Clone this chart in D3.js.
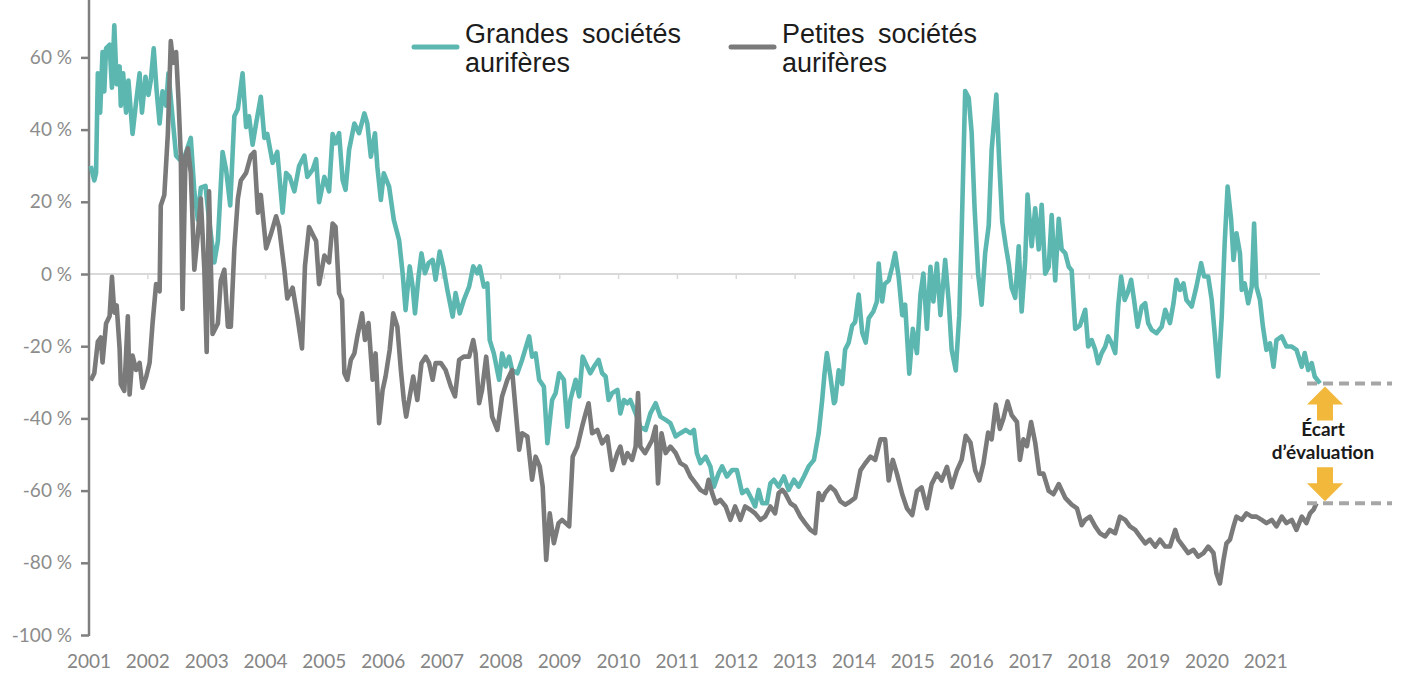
<!DOCTYPE html>
<html><head><meta charset="utf-8">
<script src="https://cdn.jsdelivr.net/npm/d3@7"></script>
<style>html,body{margin:0;padding:0;background:#fff;overflow:hidden}svg{display:block}</style>
</head><body><svg id="c" width="1403" height="673"></svg>
<script>
// ---------- DATA ----------
const yearTicks = d3.range(2001, 2022);
const valueTicks = [-100, -80, -60, -40, -20, 0, 20, 40, 60];
const seriesNames = [["Grandes sociétés", "aurifères"], ["Petites sociétés", "aurifères"]];
const annotationText = ["Écart", "d’évaluation"];

// [decimal year, % premium/discount]
const grandes = [
[2001.03,29.9],[2001.09,25.9],[2001.12,28],[2001.15,55.6],[2001.19,44.7],[2001.23,61.5],[2001.26,50.6],[2001.29,62.5],[2001.35,63.5],[2001.39,51.6],[2001.43,68.9],[2001.47,52.6],[2001.52,57.5],[2001.54,46.6],[2001.58,55.6],[2001.63,44.7],[2001.67,53.6],[2001.74,38.8],[2001.80,47.6],[2001.86,55.6],[2001.90,44.7],[2001.96,54.6],[2002.01,49.6],[2002.05,53.6],[2002.10,62.5],[2002.15,50.6],[2002.20,41.7],[2002.25,50.6],[2002.31,46.6],[2002.35,55.6],[2002.48,32.8],[2002.59,30.8],[2002.73,37.7],[2002.79,22.9],[2002.85,15],[2002.90,23.9],[2002.98,24.4],[2003.04,15],[2003.13,3.2],[2003.19,9.1],[2003.27,33.8],[2003.33,28.9],[2003.40,19],[2003.47,43.7],[2003.53,45.7],[2003.61,55.6],[2003.67,40.7],[2003.72,43.7],[2003.78,35.8],[2003.84,41.7],[2003.92,49.1],[2003.98,37.7],[2004.03,38.8],[2004.12,30.8],[2004.20,33.8],[2004.29,17],[2004.35,28],[2004.41,26.9],[2004.49,22.9],[2004.57,29.9],[2004.66,32.8],[2004.71,26.9],[2004.80,28.9],[2004.86,31.8],[2004.91,19.9],[2005.00,26.9],[2005.08,22.9],[2005.14,38.8],
[2005.19,36.2],[2005.25,39],[2005.31,26],[2005.36,23.3],[2005.42,34.4],[2005.51,41.7],[2005.59,39],[2005.68,44.5],[2005.73,41.7],[2005.79,32.5],[2005.86,39],[2005.90,29.7],[2005.96,20.5],[2006.01,27.9],[2006.10,24.2],[2006.18,15],[2006.27,9.4],[2006.33,0.2],[2006.38,-10],[2006.45,2.1],[2006.50,-3.5],[2006.54,-10.9],[2006.60,-0.7],[2006.65,5.7],[2006.71,0.2],[2006.77,3],[2006.84,3.9],[2006.89,-1.6],[2006.96,6.2],[2007.02,2.1],[2007.09,-4.4],[2007.18,-11.8],[2007.23,-5.3],[2007.30,-10.9],[2007.37,-7.2],[2007.46,-3.5],[2007.53,2.1],[2007.60,0.2],[2007.64,2.1],[2007.71,-3.5],[2007.77,-2.6],[2007.81,-18.3],[2007.88,-22],[2007.97,-29.3],[2008.02,-22],[2008.08,-25.6],[2008.14,-22.9],[2008.19,-26.6],[2008.28,-27.5],[2008.36,-23.8],[2008.48,-17.3],[2008.53,-22.9],[2008.59,-22],[2008.65,-29.3],[2008.73,-31.2],[2008.79,-46.9],[2008.87,-34.9],[2008.93,-33],[2008.99,-27.5],[2009.07,-29.3],[2009.13,-42.3],[2009.18,-34.9],[2009.27,-29.3],[2009.33,-33.9],[2009.39,-22.9],
[2009.44,-24.7],[2009.52,-27.5],[2009.58,-25.7],[2009.66,-23.8],[2009.72,-27.5],[2009.78,-28.4],[2009.83,-34.9],[2009.89,-33],[2009.98,-32.1],[2010.03,-38.6],[2010.09,-34.9],[2010.15,-35.8],[2010.20,-34.9],[2010.29,-38.6],[2010.37,-42.3],[2010.46,-43.2],[2010.54,-38.6],[2010.63,-35.8],[2010.71,-39.5],[2010.80,-40.4],[2010.88,-41.3],[2010.97,-45],[2011.05,-44.1],[2011.14,-43.2],[2011.22,-44.1],[2011.28,-43.2],[2011.33,-49.6],[2011.39,-52.4],[2011.48,-50.6],[2011.56,-53.3],[2011.62,-58.9],[2011.70,-55.2],[2011.76,-53.3],[2011.84,-56.1],[2011.93,-54.3],[2012.01,-54.3],[2012.10,-60.7],[2012.18,-59.8],[2012.27,-62.6],[2012.32,-64.4],[2012.38,-59.8],[2012.44,-63.5],[2012.52,-63.5],[2012.58,-58],[2012.64,-57],[2012.72,-58.9],[2012.81,-56.1],[2012.89,-59.8],[2012.98,-57],[2013.06,-58.9],[2013.15,-56.1],[2013.23,-53.3],[2013.32,-51.5],[2013.40,-44.1],[2013.46,-34.9],[2013.50,-27.5],[2013.54,-21.9],[2013.60,-28.4],[2013.66,-35.8],
[2013.68,-35.3],[2013.74,-26.7],[2013.80,-30.5],[2013.85,-20.9],[2013.91,-19],[2013.97,-14.3],[2014.02,-13.3],[2014.08,-5.7],[2014.14,-16.2],[2014.20,-19],[2014.25,-12.3],[2014.33,-10.4],[2014.39,-7.6],[2014.42,2.9],[2014.48,-7.6],[2014.52,-2.8],[2014.59,-1.8],[2014.65,2],[2014.70,5.8],[2014.76,-0.9],[2014.82,-11.4],[2014.87,-8.5],[2014.94,-27.6],[2015.00,-15.2],[2015.07,-21.9],[2015.13,-5.7],[2015.18,0.1],[2015.24,-15.2],[2015.30,2],[2015.35,-7.6],[2015.41,2.9],[2015.47,-11.4],[2015.55,3.9],[2015.61,-7.6],[2015.66,-20.9],[2015.73,-26.7],[2015.79,-11.4],[2015.83,11.5],[2015.89,50.7],[2015.95,48.8],[2016.00,39.2],[2016.05,18.2],[2016.11,0.1],[2016.17,-8.5],[2016.23,5.8],[2016.29,13.4],[2016.34,34.4],[2016.42,49.7],[2016.47,30.6],[2016.52,14.4],[2016.58,7.7],[2016.63,2.9],[2016.68,-3.8],[2016.74,-6.6],[2016.80,7.7],[2016.85,-10.4],[2016.91,3.9],[2016.95,22],[2017.02,7.7],[2017.08,18.2],[2017.14,6.8],[2017.19,19.2],[2017.25,0.1],[2017.31,2],[2017.36,16.3],[2017.42,-1.8],[2017.48,15.3],[2017.53,6.8],[2017.59,5.8],[2017.65,2],[2017.70,1],[2017.76,-15.2],[2017.84,-14.3],
[2017.93,-9.9],[2017.98,-20.1],[2018.04,-18.3],[2018.10,-21],[2018.15,-24.7],[2018.21,-21.9],[2018.27,-20.1],[2018.32,-17.3],[2018.38,-19.2],[2018.44,-21.9],[2018.49,-9],[2018.54,-0.7],[2018.60,-7.2],[2018.65,-5.3],[2018.71,-1.6],[2018.76,-7.2],[2018.82,-14.6],[2018.89,-9],[2018.95,-8.1],[2019.00,-13.6],[2019.06,-15.5],[2019.14,-16.4],[2019.23,-14.6],[2019.29,-9.9],[2019.37,-13.6],[2019.43,-8.1],[2019.48,-1.6],[2019.54,-4.4],[2019.60,-2.6],[2019.65,-7.2],[2019.74,-9],[2019.82,-3.5],[2019.90,3],[2019.95,-0.7],[2020.02,-0.7],[2020.08,-7.2],[2020.13,-16.4],[2020.19,-28.4],[2020.25,-11.8],[2020.30,8.5],[2020.35,24.2],[2020.41,15],[2020.45,3.9],[2020.50,11.3],[2020.56,5.7],[2020.59,-4.4],[2020.64,-2.6],[2020.70,-8.1],[2020.76,-3.5],[2020.80,14],[2020.84,-3.5],[2020.90,-7.2],[2020.95,-14.6],[2021.01,-21],[2021.07,-19.2],[2021.13,-25.7],[2021.18,-18.3],[2021.27,-17.3],[2021.35,-20.1],[2021.44,-20.1],[2021.52,-21],[2021.61,-25.7],[2021.66,-21.9],[2021.72,-26.6],[2021.78,-24.7],[2021.83,-28.4],[2021.92,-30.3]
];

const petites = [
[2001.03,-29.5],[2001.09,-27.5],[2001.15,-18.7],[2001.20,-17.6],[2001.23,-24.5],[2001.29,-13.7],[2001.35,-11.7],[2001.39,-0.8],[2001.43,-10.7],[2001.47,-8.7],[2001.52,-20.6],[2001.54,-30.5],[2001.60,-32.4],[2001.66,-11.7],[2001.69,-33.4],[2001.74,-22.6],[2001.80,-26.6],[2001.86,-24.6],[2001.91,-31.5],[2001.97,-28.6],[2002.03,-24.6],[2002.08,-13.7],[2002.14,-2.8],[2002.20,-4.8],[2002.22,19],[2002.28,21.9],[2002.34,38.8],[2002.39,64.5],[2002.43,58.5],[2002.48,61.5],[2002.52,48.6],[2002.56,32.8],[2002.59,-9.7],[2002.64,32.8],[2002.68,34.8],[2002.73,28],[2002.79,1.2],[2002.85,11],[2002.90,20.9],[2002.96,1.2],[2003.00,-21.6],[2003.04,22.9],[2003.10,-16.6],[2003.19,-13.7],[2003.24,-1.8],[2003.30,1.2],[2003.36,-14.6],[2003.41,-14.6],[2003.47,7.1],[2003.53,20.9],[2003.58,25.9],[2003.67,28],[2003.75,32.8],[2003.81,33.8],[2003.87,17],[2003.92,21.9],[2004.01,7.1],[2004.09,11],[2004.18,16],[2004.23,13],[2004.32,1.2],[2004.37,-6.8],[2004.46,-3.8],[2004.54,-11.7],[2004.62,-20.6],[2004.67,2.2],[2004.74,13],[2004.80,11],[2004.86,9.1],[2004.91,-2.8],[2005.00,5.1],[2005.08,3.2],[2005.14,14],
[2005.19,13.1],[2005.25,-5.3],[2005.30,-7.2],[2005.34,-27.5],[2005.39,-29.3],[2005.45,-23.8],[2005.51,-22],[2005.56,-17.3],[2005.64,-10.9],[2005.69,-18.3],[2005.75,-13.6],[2005.82,-29.3],[2005.87,-22],[2005.93,-41.3],[2005.99,-32.1],[2006.04,-28.4],[2006.11,-21],[2006.17,-10.9],[2006.24,-14.6],[2006.30,-26.6],[2006.35,-34.9],[2006.39,-39.5],[2006.45,-33.9],[2006.51,-28.4],[2006.58,-34.9],[2006.65,-24.7],[2006.72,-22.9],[2006.78,-24.7],[2006.84,-29.3],[2006.89,-24.7],[2006.98,-24.7],[2007.06,-26.6],[2007.15,-31.2],[2007.22,-33.9],[2007.29,-23.8],[2007.37,-22.9],[2007.46,-22.9],[2007.53,-18.3],[2007.57,-22],[2007.63,-35.8],[2007.68,-32.1],[2007.75,-22.9],[2007.80,-31.2],[2007.85,-39.5],[2007.94,-43.2],[2008.02,-33.9],[2008.11,-29.3],[2008.19,-26.6],[2008.25,-37.6],[2008.31,-48.7],[2008.36,-44.1],[2008.45,-45],[2008.53,-57],[2008.59,-50.6],[2008.66,-53.3],[2008.71,-58.9],[2008.77,-79.2],[2008.83,-66.3],[2008.90,-74.6],[2008.98,-69],[2009.04,-68.1],[2009.16,-69.9],[2009.22,-50.6],[2009.30,-47.8],[2009.38,-42.3],
[2009.44,-38.6],[2009.49,-35.8],[2009.55,-44.1],[2009.64,-43.2],[2009.72,-46.9],[2009.81,-45],[2009.89,-54.3],[2009.98,-49.6],[2010.03,-47.8],[2010.09,-52.4],[2010.15,-49.6],[2010.23,-51.5],[2010.29,-47.8],[2010.33,-33],[2010.37,-47.8],[2010.45,-49.6],[2010.51,-47.8],[2010.57,-46],[2010.63,-42.3],[2010.67,-58],[2010.73,-44.1],[2010.80,-49.6],[2010.88,-47.8],[2010.97,-49.6],[2011.05,-52.4],[2011.14,-53.3],[2011.22,-56.1],[2011.31,-58],[2011.39,-59.8],[2011.48,-60.7],[2011.53,-57],[2011.59,-60.7],[2011.65,-63.5],[2011.73,-62.6],[2011.82,-64.4],[2011.90,-68.1],[2011.98,-64.4],[2012.07,-68.1],[2012.15,-64.4],[2012.24,-65.3],[2012.32,-66.3],[2012.41,-68.1],[2012.49,-67.2],[2012.58,-64.4],[2012.66,-66.3],[2012.72,-60.7],[2012.78,-59.8],[2012.83,-60.7],[2012.92,-63.5],[2013.00,-64.4],[2013.09,-67.2],[2013.17,-69],[2013.26,-70.9],[2013.34,-71.8],[2013.40,-60.7],[2013.46,-62.6],[2013.51,-60.7],[2013.60,-58.9],
[2013.68,-60.1],[2013.77,-63],[2013.85,-63.9],[2013.94,-63],[2014.02,-62],[2014.11,-54.4],[2014.19,-52.5],[2014.28,-50.6],[2014.36,-51.5],[2014.45,-45.8],[2014.53,-45.8],[2014.59,-57.2],[2014.66,-51.5],[2014.73,-55.3],[2014.82,-61],[2014.90,-64.9],[2014.99,-66.8],[2015.07,-60.1],[2015.15,-59.1],[2015.24,-64.9],[2015.32,-58.2],[2015.41,-55.3],[2015.49,-57.2],[2015.58,-53.4],[2015.66,-59.1],[2015.75,-54.4],[2015.83,-51.5],[2015.90,-44.8],[2015.98,-46.7],[2016.06,-54.4],[2016.13,-57.2],[2016.20,-52.5],[2016.28,-43.9],[2016.34,-45.8],[2016.41,-36.2],[2016.48,-42.9],[2016.54,-40],[2016.61,-35.3],[2016.68,-39.1],[2016.77,-41],[2016.82,-51.5],[2016.88,-45.8],[2016.94,-47.7],[2017.01,-41],[2017.08,-46.7],[2017.15,-55.3],[2017.22,-55.3],[2017.31,-60.1],[2017.39,-61],[2017.48,-58.2],[2017.59,-62],[2017.70,-63.9],[2017.79,-64.9],[2017.87,-69.6],
[2017.93,-68.1],[2018.01,-67.2],[2018.10,-69.9],[2018.18,-71.8],[2018.27,-72.7],[2018.35,-70.9],[2018.44,-71.8],[2018.52,-67.2],[2018.61,-68.1],[2018.69,-69.9],[2018.78,-70.9],[2018.86,-72.7],[2018.95,-74.6],[2019.03,-73.6],[2019.12,-75.5],[2019.20,-73.6],[2019.29,-75.5],[2019.37,-75.5],[2019.46,-70.9],[2019.51,-73.6],[2019.60,-75.5],[2019.68,-77.3],[2019.77,-76.4],[2019.85,-78.3],[2019.94,-77.3],[2020.02,-75.5],[2020.11,-77.3],[2020.16,-82.9],[2020.22,-85.7],[2020.28,-79.2],[2020.33,-74.6],[2020.39,-73.6],[2020.45,-69.9],[2020.50,-67.2],[2020.59,-68.1],[2020.67,-66.3],[2020.76,-67.2],[2020.84,-67.2],[2020.93,-68.1],[2021.01,-69],[2021.10,-68.1],[2021.18,-69.9],[2021.27,-67.2],[2021.35,-69],[2021.44,-68.1],[2021.52,-70.9],[2021.61,-67.2],[2021.69,-69],[2021.75,-66.3],[2021.81,-65.3],[2021.86,-63.5]
];

// ---------- STYLE ----------
const TEAL = "#5db7b1", GREY = "#7a7a7a", GOLD = "#f1b83c";
const svg = d3.select("#c");
const x = d3.scaleLinear().domain([2001, 2021.92]).range([89, 1320]);
const y = d3.scaleLinear().domain([-100, 60]).range([635, 57.4]);

// zero line + year ticks
svg.append("line").attr("x1", x(2001)).attr("x2", x(2021.92)).attr("y1", y(0)).attr("y2", y(0))
  .attr("stroke", "#d9d9d9").attr("stroke-width", 2);
svg.append("g").selectAll("line").data(yearTicks.slice(1)).join("line")
  .attr("x1", d => x(d)).attr("x2", d => x(d)).attr("y1", y(0)).attr("y2", y(0) + 5)
  .attr("stroke", "#d9d9d9").attr("stroke-width", 1.5);

// y axis
const ya = svg.append("g").attr("transform", `translate(${x(2001)},0)`)
  .call(d3.axisLeft(y).tickValues(valueTicks).tickSize(8).tickPadding(9).tickFormat(d => d + " %"));
ya.select(".domain").remove();
ya.selectAll(".tick line").attr("stroke", "#7f7f7f").attr("stroke-width", 2.5);
ya.selectAll(".tick text").attr("fill", "#8c8c8c").style("font-family", "Lato").style("font-size", "19px");
ya.append("line").attr("x1", 0).attr("x2", 0).attr("y1", y(-100) + 1).attr("y2", y(80))
  .attr("stroke", "#7f7f7f").attr("stroke-width", 2.5);

// x labels
svg.append("g").selectAll("text").data(yearTicks).join("text")
  .attr("x", d => x(d)).attr("y", 668).attr("text-anchor", "middle")
  .attr("fill", "#858585").style("font-family", "Lato").style("font-size", "19px").text(d => d);

// series
const line = d3.line().x(d => x(d[0])).y(d => y(d[1]));
svg.append("path").datum(grandes).attr("d", line).attr("fill", "none").attr("stroke", TEAL)
  .attr("stroke-width", 4.6).attr("stroke-linejoin", "round");
svg.append("path").datum(petites).attr("d", line).attr("fill", "none").attr("stroke", GREY)
  .attr("stroke-width", 4.6).attr("stroke-linejoin", "round");

// legend
const leg = [{c: TEAL, x0: 414, tx: 465, t: seriesNames[0]}, {c: GREY, x0: 731, tx: 782, t: seriesNames[1]}];
leg.forEach(l => {
  svg.append("line").attr("x1", l.x0).attr("x2", l.x0 + 43).attr("y1", 47).attr("y2", 47)
    .attr("stroke", l.c).attr("stroke-width", 5).attr("stroke-linecap", "round");
  l.t.forEach((s, i) => svg.append("text").attr("x", l.tx).attr("y", 43 + i * 29)
    .attr("fill", "#1c1c1c").style("font-family", "Liberation Sans, Arial").style("font-size", "27px")
    .style("word-spacing", "6px").text(s));
});

// annotation
const gl = grandes[grandes.length - 1], pl = petites[petites.length - 1];
const yt = y(gl[1]), yb = y(pl[1]);
const xe = x(gl[0]);
[yt, yb].forEach(yy => svg.append("line").attr("x1", xe - 13).attr("x2", xe + 72).attr("y1", yy).attr("y2", yy)
  .attr("stroke", "#a6a6a6").attr("stroke-width", 4).attr("stroke-dasharray", "10,6"));
const cx = xe + 5;
function arrow(tip, dir) { // dir -1 = up, 1 = down
  const hb = tip - dir * 18, sb = tip - dir * 34;
  return [[cx, tip], [cx + 18, hb], [cx + 8, hb], [cx + 8, sb], [cx - 8, sb], [cx - 8, hb], [cx - 18, hb]];
}
svg.append("polygon").attr("points", arrow(yt + 3, -1).join(" ")).attr("fill", GOLD);
svg.append("polygon").attr("points", arrow(yb - 2, 1).join(" ")).attr("fill", GOLD);
const mid = (yt + yb) / 2;
annotationText.forEach((s, i) => svg.append("text").attr("x", cx - 2).attr("y", mid - 7 + i * 23)
  .attr("text-anchor", "middle").attr("fill", "#1a1a1a").style("font-family", "Lato")
  .style("font-weight", "700").style("font-size", "19px").text(s));
</script></body></html>
